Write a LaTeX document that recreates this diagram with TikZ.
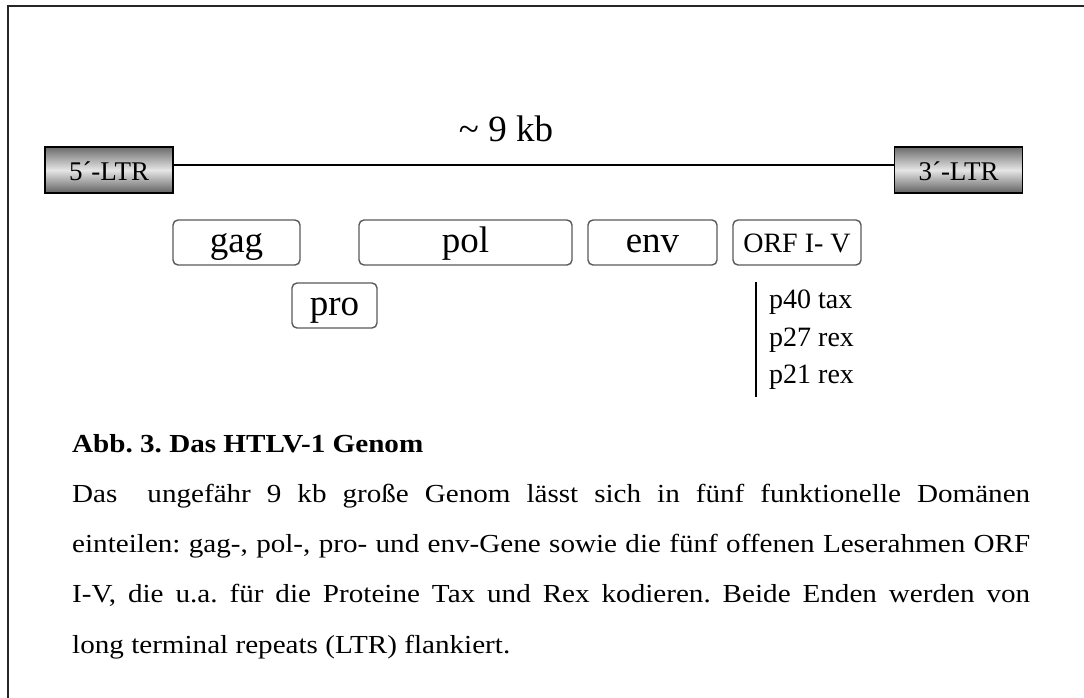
\documentclass[tikz,border=0pt]{standalone}
\usepackage{fontspec}
\setmainfont{Liberation Serif}
\newfontfamily\parafont[FakeStretch=1.12]{Liberation Serif}
\frenchspacing
\tikzset{
  frameline/.style={draw=black!85, line width=2pt},
  ltrbox/.style={draw=black, line width=1.5pt, top color=black!58, bottom color=black!62, middle color=black!10,
    minimum width=128pt, minimum height=46pt, inner sep=0pt,
    font=\fontsize{27}{30}\selectfont, text height=21pt, text depth=0pt},
  genebox/.style={draw=black!65, line width=1.4pt, rounded corners=5pt, minimum height=45pt, inner sep=0pt,
    font=\fontsize{37}{40}\selectfont, text height=25pt, text depth=6pt},
  orfbox/.style={genebox, font=\fontsize{28}{32}\selectfont, text height=19pt, text depth=0pt},
  genome/.style={draw=black, line width=2pt},
  plabel/.style={anchor=base west, inner sep=0pt, font=\fontsize{28}{32}\selectfont},
  caption/.style={anchor=base west, inner sep=0pt, font=\parafont\fontsize{26}{30}\selectfont}
}
\begin{document}
\begin{tikzpicture}[x=1pt,y=-1pt]
\useasboundingbox (0,0) rectangle (1084,698);
\clip (0,0) rectangle (1084,698);
\draw[frameline] (8,6) rectangle (1110,720);

% LTRs and genome line
\node[ltrbox] (l5) at (109,170) {5´-LTR};
\node[ltrbox] (l3) at (958.5,170) {3´-LTR};
\draw[genome] ([yshift=5pt]l5.east) -- ([yshift=5pt]l3.west);
\node[anchor=base, inner sep=0pt, font=\fontsize{37}{40}\selectfont] (kb) at (506,142) {\textasciitilde\ 9 kb};

% genes
\node[genebox, minimum width=127pt] (gag) at (236.5,242.5) {gag};
\node[genebox, minimum width=213pt] (pol) at (465.5,242.5) {pol};
\node[genebox, minimum width=129pt] (env) at (652.5,242.5) {env};
\node[orfbox, minimum width=128pt] (orf) at (797,242.5) {ORF I- V};
\node[genebox, minimum width=85pt] (pro) at (334.5,305.5) {pro};

% ORF products
\coordinate (v1) at (756,282);
\coordinate (v2) at (756,397);
\draw[genome] (v1) -- (v2);
\node[plabel] (p40) at (769,308) {p40 tax};
\node[plabel] (p27) at (769,346) {p27 rex};
\node[plabel] (p21) at (769,383) {p21 rex};

% caption
\node[caption, font=\parafont\bfseries\fontsize{26}{30}\selectfont] (c0) at (72,452) {Abb. 3. Das HTLV-1 Genom};
\node[caption] (c1) at (72,502) {\makebox[958pt][s]{Das\hspace{14pt} ungefähr 9 kb große Genom lässt sich in fünf funktionelle Domänen}};
\node[caption] (c2) at (72,552) {\makebox[958pt][s]{einteilen: gag-, pol-, pro- und env-Gene sowie die fünf offenen Leserahmen ORF}};
\node[caption] (c3) at (72,602) {\makebox[958pt][s]{I-V, die u.a. für die Proteine Tax und Rex kodieren. Beide Enden werden von}};
\node[caption] (c4) at (72,653) {long terminal repeats (LTR) flankiert.};
\end{tikzpicture}
\end{document}
